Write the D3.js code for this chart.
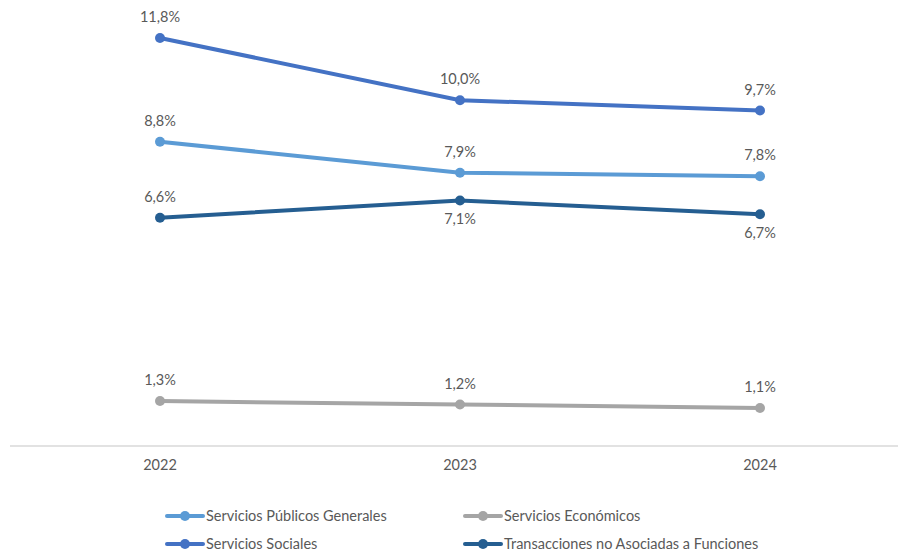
<!DOCTYPE html>
<html><head><meta charset="utf-8">
<script src="https://cdn.jsdelivr.net/npm/d3@7"></script>
<style>body{margin:0;background:#fff}svg{display:block}text{font-family:Lato,"Open Sans",sans-serif;fill:#595959}</style>
</head><body>
<svg id="c" width="899" height="555"></svg>
<script>
const categories = ["2022","2023","2024"];
const seriesNames = ["Servicios Públicos Generales","Servicios Económicos","Servicios Sociales","Transacciones no Asociadas a Funciones"];
const seriesColors = ["#5B9BD5","#A5A5A5","#4472C4","#255E91"];
const publicosGenerales = [8.8, 7.9, 7.8];
const economicos = [1.3, 1.2, 1.1];
const sociales = [11.8, 10.0, 9.7];
const transacciones = [6.6, 7.1, 6.7];
const labelBelow = [[false,false,false],[false,false,false],[false,false,false],[false,true,true]];

const series = [publicosGenerales, economicos, sociales, transacciones];
const svg = d3.select("#c");
const x = d3.scaleBand().domain(categories).range([10, 910]);
const y = d3.scaleLinear().domain([0, 12]).range([446, 31]);
const cx = d => x(d) + x.bandwidth()/2;
const FS = "14.5px";

// axis
const axis = d3.axisBottom(x).tickSize(0).tickPadding(14);
const ag = svg.append("g").attr("transform","translate(0,446)").call(axis);
ag.select(".domain").remove();
ag.append("line").attr("x1",10).attr("x2",898).attr("y1",0).attr("y2",0).attr("stroke","#D9D9D9").attr("stroke-width",1.3);
ag.selectAll("text").style("font-size",FS).style("fill","#595959").style("font-family","Lato,'Open Sans',sans-serif");

const line = d3.line().x((d,i)=>cx(categories[i])).y(d=>y(d));
[1,0,3,2].forEach(s=>{
  const g = svg.append("g");
  g.append("path").datum(series[s]).attr("d",line).attr("fill","none").attr("stroke",seriesColors[s]).attr("stroke-width",4).attr("stroke-linecap","round");
  g.selectAll("circle").data(series[s]).join("circle").attr("cx",(d,i)=>cx(categories[i])).attr("cy",d=>y(d)).attr("r",5).attr("fill",seriesColors[s]);
  g.selectAll("text").data(series[s]).join("text")
    .attr("x",(d,i)=>cx(categories[i]))
    .attr("y",(d,i)=>y(d) + (labelBelow[s][i] ? 24 : -16))
    .attr("text-anchor","middle").style("font-size",FS)
    .text(d=>d.toFixed(1).replace(".",",")+"%");
});

// legend
const legPos = [[167,516],[465,516],[167,544],[465,544]];
seriesNames.forEach((n,i)=>{
  const [lx,ly] = legPos[i];
  const g = svg.append("g").attr("transform",`translate(${lx},${ly})`);
  g.append("line").attr("x1",0).attr("x2",36).attr("y1",0).attr("y2",0).attr("stroke",seriesColors[i]).attr("stroke-width",4).attr("stroke-linecap","round");
  g.append("circle").attr("cx",18).attr("cy",0).attr("r",5).attr("fill",seriesColors[i]);
  g.append("text").attr("x",39).attr("y",5).style("font-size",FS).text(n);
});
</script>
</body></html>
